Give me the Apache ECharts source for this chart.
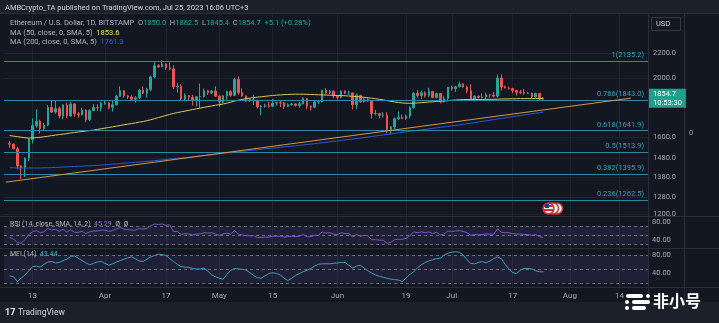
<!DOCTYPE html>
<html><head><meta charset="utf-8">
<script src="https://cdn.jsdelivr.net/npm/echarts@6/dist/echarts.min.js"></script>
<style>html,body{margin:0;padding:0;background:#131722;overflow:hidden}#c{width:719px;height:323px}</style>
</head><body><div id="c"></div>
<script>
// ---------- data ----------
const startDate = [2023, 2, 6];   // first category (Mar 6, 2023)
const dayCount = 169;             // Mar 6 .. Aug 21
const firstCandleOffset = 1;      // candles start Mar 7
// daily [open, high, low, close], Mar 7 .. Jul 25
const ohlc = [
[1565,1580,1540,1561],[1561,1565,1530,1534],[1534,1545,1420,1438],[1438,1442,1368,1429],[1429,1485,1380,1481],
[1481,1595,1465,1589],[1589,1720,1565,1674],[1674,1780,1660,1702],[1702,1712,1625,1655],[1655,1690,1640,1677],
[1677,1810,1670,1792],[1792,1842,1755,1761],[1761,1840,1750,1785],[1785,1800,1720,1736],[1736,1815,1714,1807],
[1807,1825,1720,1736],[1736,1830,1730,1816],[1816,1820,1730,1750],[1750,1760,1725,1743],[1743,1790,1740,1775],
[1775,1780,1695,1711],[1711,1780,1705,1771],[1771,1815,1770,1792],[1792,1815,1770,1790],[1790,1830,1765,1821],
[1821,1840,1810,1823],[1823,1830,1780,1793],[1793,1840,1765,1810],[1810,1880,1805,1870],[1870,1940,1865,1909],
[1909,1915,1860,1872],[1872,1880,1850,1864],[1864,1875,1840,1849],[1849,1870,1825,1859],[1859,1920,1850,1913],
[1913,1940,1885,1892],[1892,1930,1860,1918],[1918,2020,1905,2011],[2011,2125,2000,2097],[2097,2110,2080,2091],
[2091,2140,2085,2111],[2111,2115,2065,2080],[2080,2125,2060,2072],[2072,2100,1920,1937],[1937,1965,1895,1941],
[1941,1955,1840,1850],[1850,1890,1835,1874],[1874,1878,1840,1862],[1862,1880,1805,1842],[1842,1870,1800,1866],
[1866,1960,1790,1868],[1868,1925,1860,1908],[1908,1915,1880,1893],[1893,1915,1885,1906],[1906,1940,1868,1870],
[1870,1880,1800,1830],[1830,1880,1820,1872],[1872,1910,1845,1902],[1902,1912,1865,1876],[1876,2005,1870,1992],
[1992,2015,1880,1895],[1895,1925,1865,1872],[1872,1875,1830,1848],[1848,1855,1830,1845],[1845,1880,1810,1841],
[1841,1845,1785,1797],[1797,1810,1740,1798],[1798,1818,1792,1804],[1804,1830,1790,1800],[1800,1850,1795,1822],
[1822,1830,1805,1824],[1824,1835,1795,1822],[1822,1830,1782,1800],[1800,1820,1795,1811],[1811,1822,1805,1816],
[1816,1820,1798,1806],[1806,1830,1790,1818],[1818,1862,1812,1853],[1853,1855,1780,1801],[1801,1805,1770,1794],
[1794,1835,1788,1829],[1829,1835,1815,1831],[1831,1915,1825,1911],[1911,1928,1885,1892],[1892,1915,1885,1906],
[1906,1908,1855,1872],[1872,1875,1845,1862],[1862,1910,1855,1906],[1906,1910,1885,1892],[1892,1910,1880,1893],
[1893,1895,1780,1810],[1810,1890,1780,1876],[1876,1880,1825,1830],[1830,1860,1825,1848],[1848,1860,1830,1839],
[1839,1840,1720,1752],[1752,1775,1740,1751],[1751,1755,1720,1740],[1740,1760,1725,1740],[1740,1760,1625,1650],
[1650,1670,1620,1666],[1666,1725,1650,1718],[1718,1765,1710,1727],[1727,1745,1715,1720],[1720,1745,1710,1735],
[1735,1800,1720,1790],[1790,1900,1785,1890],[1890,1915,1860,1875],[1875,1910,1850,1894],[1894,1905,1860,1876],
[1876,1930,1865,1904],[1904,1905,1855,1860],[1860,1895,1855,1888],[1888,1890,1820,1832],[1832,1870,1825,1853],
[1853,1935,1835,1934],[1934,1945,1910,1924],[1924,1945,1900,1937],[1937,1975,1935,1955],[1955,1965,1930,1936],
[1936,1945,1890,1909],[1909,1955,1845,1850],[1850,1875,1835,1870],[1870,1873,1855,1862],[1862,1890,1855,1865],
[1865,1895,1850,1880],[1880,1885,1860,1878],[1878,1900,1860,1870],[1870,2030,1860,2003],[2003,2030,1910,1935],
[1935,1945,1925,1928],[1928,1940,1915,1925],[1925,1930,1890,1910],[1910,1915,1875,1898],[1898,1915,1885,1894],
[1894,1920,1880,1890],[1890,1900,1885,1892],[1892,1895,1855,1865],[1865,1895,1860,1890],[1890,1892,1840,1850],
[1850.0,1862.5,1845.4,1854.7]
];
const ma50 = [
1612,1609,1606,1602,1599,1597,1598, 1600,1602,1605,1608,1612,1615,1618, 1621,1624,1628,1631,1634,1637,1640, 1643,1646,1650,1654,
1658,1662,1666,1670,1675,1679,1683, 1687,1691,1696,1700,1705,1711,1718, 1725,1732,1739,1746,1752,1758,1763,
1768,1773,1778,1783,1788,1793,1798, 1802,1807,1811,1816,1822,1828,1836, 1842,1847,1852,1856,1860,1863,1866,
1869,1872,1875,1877,1879,1881,1882, 1883,1884,1884,1884,1883,1882,1881, 1880,1879,1878,1877,1876,1875,1874,
1873,1871,1869,1867,1865,1862,1859, 1856,1852,1848,1844,1839,1834,1830, 1826,1823,1821,1820,1821,1823,1825,
1827,1829,1831,1833,1835,1837,1839, 1841,1843,1845,1846,1847,1847,1847, 1847,1847,1848,1848,1848,1849,1850,
1851,1851,1852,1852,1853,1853,1853, 1853,1853,1853,1853.6
];
const ma200 = [
1428,1428,1427,1427,1427,1427,1427,1427,1427,1428,1428,1429,
1430,1431,1432,1433,1434,1435,1436,1437,1438,1439,1440,1441,1443,
1444,1446,1448,1449,1451,1453,1455,1456,1458,1460,1462,1463,1465,
1467,1469,1471,1473,1476,1478,1480,1482,1484,1486,1488,1491,1493,
1495,1498,1500,1503,1505,1507,1510,1512,1515,1517,1520,1522,1524,1527,
1529,1531,1534,1536,1538,1540,1543,1545,1547,1549,1551,1554,1556,
1559,1561,1564,1567,1570,1572,1575,1578,1580,1583,1586,1589,1591,1594,1597,
1600,1603,1607,1610,1613,1616,1619,1622,1626,1629,1632,1635,
1638,1641,1644,1647,1650,1653,1656,1660,1663,1666,1669,1672,1675,1678,
1682,1686,1689,1693,1697,1701,1704,1708,1712,1716,1720,1723,1727,1731,1735,1739,1742,1746,1750,1754,1757,1761.3
];
const rsi = [
45,42,33,32,40,52,58,61,56,58,66,62,64,59,64,57,63,57,57,59,54,58,60,60,62,
62,59,61,65,68,64,63,62,62,66,64,66,72,76,75,76,73,74,59,59,52,54,53,51,53,53,56,55,56,53,
50,53,55,53,61,53,51,49,49,49,45,45,46,46,48,48,48,46,47,48,47,48,52,47,47,50,50,58,55,56,53,
52,56,54,54,46,52,48,50,49,40,40,39,39,32,34,40,41,41,43,49,58,56,58,56,58,54,57,51,53,60,
59,60,61,59,56,50,52,51,52,53,53,52,65,57,56,56,54,53,53,52,52,50,52,47,45.29
];
const mfi = [
35,33,23,30,37,46,55,56,54,60,65,66,63,64,68,71,77,78,73,68,63,59,62,65,66,
62,58,61,65,68,71,74,76,72,67,66,71,76,79,82,81,79,72,66,60,55,54,53,51,50,50,52,45,37,33,
30,28,38,47,51,50,49,48,42,36,31,30,35,40,42,40,37,30,25,30,36,40,44,47,51,56,60,61,61,61,62,
63,64,64,58,52,56,58,52,46,41,37,34,32,30,28,27,26,23,30,38,44,52,59,64,67,70,72,73,80,84,
86,87,86,80,70,62,61,64,66,63,67,72,76,72,60,50,42,40,47,51,51,50,46,44,43.44
];
const fibLevels = [2135.2, 1843.0, 1641.9, 1513.9, 1395.9, 1262.5];
const fibRatios = ['1', '0.786', '0.618', '0.5', '0.382', '0.236'];
const trendStart = ['2023-03-06', 1353];
const trendEnd = ['2023-08-17', 1856];
const priceTicks = [2200, 2000, 1600, 1480, 1380, 1280, 1200];
const rsiTicks = [80, 40];
const mfiTicks = [80, 40];
const rsiLevels = [70, 50, 30];
const mfiLevels = [80, 50, 20];
const tickDates = ['2023-03-13','2023-04-01','2023-04-17','2023-05-01','2023-05-15','2023-06-01','2023-06-19','2023-07-01','2023-07-17','2023-08-01','2023-08-14'];
const tickTexts = ['13','Apr','17','May','15','Jun','19','Jul','17','Aug','14'];
const lastClose = 1854.7;
const countdown = '10:53:30';

// ---------- build ----------
const dates = [];
const t0 = Date.UTC(startDate[0], startDate[1], startDate[2]);
for (let k = 0; k < dayCount; k++) dates.push(new Date(t0 + k * 86400000).toISOString().slice(0, 10));
const pad = n => Array(n).fill('-');
const candleData = pad(firstCandleOffset).map(() => ['-','-','-','-']).concat(ohlc.map(r => [r[0], r[3], r[2], r[1]]));
const lineData = arr => pad(firstCandleOffset).concat(arr);

const FONT = 'Roboto, "Liberation Sans", sans-serif';
const lbl = '#a3a6af';
const gridColor = 'rgba(42,46,57,0.55)';
const fibColor = '#2a8aa3';
const isTick = (i, v) => tickDates.indexOf(v) >= 0;

function xAxis(g, showLabel) {
  return {
    type: 'category', gridIndex: g, data: dates, boundaryGap: true,
    axisLine: { show: false }, axisTick: { show: false },
    axisLabel: { show: showLabel, interval: isTick, formatter: v => tickTexts[tickDates.indexOf(v)],
      color: lbl, fontSize: 8, fontFamily: FONT, margin: 5 },
    splitLine: { show: true, interval: isTick, alignWithLabel: true, lineStyle: { color: gridColor, width: 1 } }
  };
}
function subY(g, min, max, ticks) {
  return {
    type: 'value', gridIndex: g, position: 'right', min: min, max: max,
    axisLine: { show: false }, axisTick: { show: false, customValues: ticks },
    axisLabel: { customValues: ticks, formatter: v => Number(v).toFixed(2), color: lbl, fontSize: 7.5, fontFamily: FONT, margin: 4 },
    splitLine: { show: false }
  };
}

const option = {
  animation: false,
  backgroundColor: '#131722',
  grid: [
    { left: 4, right: 71, top: 14, height: 202 },
    { left: 4, right: 71, top: 217, height: 31 },
    { left: 4, right: 71, top: 249, height: 38 }
  ],
  xAxis: [xAxis(0, false), xAxis(1, false), xAxis(2, true)],
  yAxis: [
    { type: 'log', logBase: 10, gridIndex: 0, position: 'right', min: 1191, max: 2548,
      axisLine: { show: false }, axisTick: { show: false, customValues: priceTicks },
      axisLabel: { customValues: priceTicks, formatter: v => Number(v).toFixed(1), color: lbl, fontSize: 7.5, fontFamily: FONT, margin: 5 },
      splitLine: { show: true, lineStyle: { color: gridColor } } },
    subY(1, 21, 92, rsiTicks),
    subY(2, 11, 93, mfiTicks)
  ],
  series: [
    { type: 'candlestick', xAxisIndex: 0, yAxisIndex: 0, data: candleData, barWidth: 2,
      itemStyle: { color: '#26a69a', color0: '#ef5350', borderColor: '#26a69a', borderColor0: '#ef5350', borderWidth: 1 },
      markLine: { silent: true, symbol: 'none', animation: false,
        lineStyle: { color: 'rgba(0,0,0,0)', width: 1 },
        data: [{ yAxis: lastClose,
          label: { show: true, position: 'end', distance: 1, formatter: lastClose.toFixed(1) + '\n' + countdown,
            backgroundColor: '#1f9f8c', color: '#ffffff', fontSize: 7.5, lineHeight: 9, padding: [1, 4, 0, 4], fontFamily: FONT } }] } },
    { type: 'line', name: 'MA50', xAxisIndex: 0, yAxisIndex: 0, data: lineData(ma50), symbol: 'none',
      lineStyle: { color: '#d9c75a', width: 1 }, z: 3 },
    { type: 'line', name: 'MA200', xAxisIndex: 0, yAxisIndex: 0, data: lineData(ma200), symbol: 'none',
      lineStyle: { color: '#2f56e0', width: 1 }, z: 3 },
    { type: 'line', name: 'Fib', xAxisIndex: 0, yAxisIndex: 0, data: [], symbol: 'none', z: 2,
      lineStyle: { color: fibColor },
      markLine: { silent: true, symbol: 'none', animation: false,
        lineStyle: { color: fibColor, width: 1, type: 'solid' },
        data: fibLevels.map((v, k) => ({ yAxis: v,
          label: { show: true, position: 'insideEndTop', distance: [4, 2], formatter: fibRatios[k] + '(' + v.toFixed(1) + ')',
            color: '#3aa0b4', fontSize: 7.5, fontFamily: FONT } })) } },
    { type: 'line', name: 'Trend', xAxisIndex: 0, yAxisIndex: 0, data: [], symbol: 'none', z: 2,
      lineStyle: { color: '#d4963f' },
      markLine: { silent: true, symbol: 'none', animation: false, label: { show: false },
        lineStyle: { color: '#d4963f', width: 1, type: 'solid' },
        data: [[ { coord: trendStart }, { coord: trendEnd } ]] } },
    { type: 'line', name: 'RSI', xAxisIndex: 1, yAxisIndex: 1, data: lineData(rsi), symbol: 'none',
      lineStyle: { color: '#7e57c2', width: 1 },
      markArea: { silent: true, itemStyle: { color: 'rgba(126,87,194,0.12)' }, data: [[{ yAxis: rsiLevels[0] }, { yAxis: rsiLevels[2] }]] },
      markLine: { silent: true, symbol: 'none', label: { show: false },
        lineStyle: { color: '#6b6e78', type: [3, 3], width: 1 }, data: rsiLevels.map(v => ({ yAxis: v })) } },
    { type: 'line', name: 'MFI', xAxisIndex: 2, yAxisIndex: 2, data: lineData(mfi), symbol: 'none',
      lineStyle: { color: '#3f9fb8', width: 1 },
      markArea: { silent: true, itemStyle: { color: 'rgba(126,87,194,0.12)' }, data: [[{ yAxis: mfiLevels[0] }, { yAxis: mfiLevels[2] }]] },
      markLine: { silent: true, symbol: 'none', label: { show: false },
        lineStyle: { color: '#6b6e78', type: [3, 3], width: 1 }, data: mfiLevels.map(v => ({ yAxis: v })) } }
  ],
  graphic: [
    { type: 'rect', shape: { x: 0, y: 0, width: 719, height: 13 }, style: { fill: '#1c202b' }, z: -1, silent: true },
    { type: 'rect', shape: { x: 0, y: 302, width: 719, height: 21 }, style: { fill: '#1c202b' }, z: -1, silent: true },
    { type: 'line', shape: { x1: 0, y1: 216.5, x2: 719, y2: 216.5 }, style: { stroke: '#2a2e39', lineWidth: 1 }, z: 5 },
    { type: 'line', shape: { x1: 0, y1: 248.5, x2: 719, y2: 248.5 }, style: { stroke: '#2a2e39', lineWidth: 1 }, z: 5 },
    { type: 'line', shape: { x1: 0, y1: 287.5, x2: 719, y2: 287.5 }, style: { stroke: '#2a2e39', lineWidth: 1 }, z: 5 },
    { type: 'line', shape: { x1: 0, y1: 13.5, x2: 719, y2: 13.5 }, style: { stroke: '#2a2e39', lineWidth: 1 }, z: 5 },
    { type: 'line', shape: { x1: 648.5, y1: 14, x2: 648.5, y2: 302 }, style: { stroke: '#2a2e39', lineWidth: 1 }, z: 5 },
    { type: 'line', shape: { x1: 684.5, y1: 14, x2: 684.5, y2: 302 }, style: { stroke: '#2a2e39', lineWidth: 1 }, z: 5 },
    { type: 'text', x: 5, y: 4, z: 10, style: { text: 'AMBCrypto_TA published on TradingView.com, Jul 25, 2023 16:06 UTC+3', fill: '#d1d4dc', font: '7.5px ' + FONT } },
    { type: 'text', x: 10, y: 19.5, z: 10, style: {
      text: '{a|Ethereum / U.S. Dollar, 1D, BITSTAMP}  {a|O}{v|1850.0}  {a|H}{v|1862.5}  {a|L}{v|1845.4}  {a|C}{v|1854.7}  {v|+5.1 (+0.28%)}',
      font: '7.5px ' + FONT, rich: { a: { fill: '#b2b5be', font: '7.5px ' + FONT }, v: { fill: '#26a69a', font: '7.5px ' + FONT } } } },
    { type: 'text', x: 10, y: 29, z: 10, style: {
      text: '{a|MA (50, close, 0, SMA, 5)}  {y|1853.6}',
      font: '7.5px ' + FONT, rich: { a: { fill: '#b2b5be', font: '7.5px ' + FONT }, y: { fill: '#f5e44a', font: '7.5px ' + FONT } } } },
    { type: 'text', x: 10, y: 38.5, z: 10, style: {
      text: '{a|MA (200, close, 0, SMA, 5)}  {b|1761.3}',
      font: '7.5px ' + FONT, rich: { a: { fill: '#b2b5be', font: '7.5px ' + FONT }, b: { fill: '#2962ff', font: '7.5px ' + FONT } } } },
    { type: 'text', x: 10, y: 221, z: 10, style: {
      text: '{a|RSI (14, close, SMA, 14, 2)}  {p|45.29}  {a|Ø  Ø}',
      font: '7px ' + FONT, rich: { a: { fill: '#b2b5be', font: '7px ' + FONT }, p: { fill: '#8e6fd0', font: '7px ' + FONT } } } },
    { type: 'text', x: 10, y: 251, z: 10, style: {
      text: '{a|MFI (14)}  {m|43.44}',
      font: '7px ' + FONT, rich: { a: { fill: '#b2b5be', font: '7px ' + FONT }, m: { fill: '#4fb3c8', font: '7px ' + FONT } } } },
    { type: 'rect', shape: { x: 651.5, y: 17.5, width: 29, height: 13 }, style: { fill: '#131722', stroke: '#363a45', lineWidth: 1 }, z: 10 },
    { type: 'text', x: 656, y: 20, z: 11, style: { text: 'USD', fill: '#d1d4dc', font: '7.5px ' + FONT } },
    { type: 'text', x: 689, y: 129, z: 10, style: { text: '0', fill: lbl, font: '7.5px ' + FONT } },
    // event markers
    { type: 'circle', shape: { cx: 557, cy: 208.5, r: 5.5 }, style: { fill: '#fff', stroke: '#d32f2f', lineWidth: 1.5 }, z: 10 },
    { type: 'circle', shape: { cx: 553, cy: 208.5, r: 5.5 }, style: { fill: '#fff', stroke: '#d32f2f', lineWidth: 1.5 }, z: 10 },
    { type: 'circle', shape: { cx: 548.5, cy: 208.5, r: 5.5 }, style: { fill: '#e8eaf0', stroke: '#d32f2f', lineWidth: 1.5 }, z: 10 },
    { type: 'rect', shape: { x: 544, y: 205, width: 9, height: 2 }, style: { fill: '#d32f2f' }, z: 11 },
    { type: 'rect', shape: { x: 544, y: 209, width: 9, height: 2 }, style: { fill: '#d32f2f' }, z: 11 },
    { type: 'rect', shape: { x: 545, y: 204, width: 4, height: 4 }, style: { fill: '#1e3a8a' }, z: 12 },
    // footer
    { type: 'text', x: 5, y: 308, z: 10, style: { text: '17', fill: '#e0e3eb', font: 'bold 9px ' + FONT } },
    { type: 'text', x: 18, y: 308, z: 10, style: { text: 'TradingView', fill: '#d1d4dc', font: '8.5px ' + FONT } },
    // watermark
    { type: 'rect', shape: { x: 626, y: 294, width: 17, height: 4, r: 2 }, style: { fill: '#ffffff' }, z: 20 },
    { type: 'circle', shape: { cx: 648, cy: 296, r: 2 }, style: { fill: '#ffffff' }, z: 20 },
    { type: 'circle', shape: { cx: 627, cy: 302, r: 2 }, style: { fill: '#ffffff' }, z: 20 },
    { type: 'rect', shape: { x: 632, y: 300, width: 18, height: 4, r: 2 }, style: { fill: '#ffffff' }, z: 20 },
    { type: 'circle', shape: { cx: 627, cy: 308, r: 2 }, style: { fill: '#ffffff' }, z: 20 },
    { type: 'rect', shape: { x: 632, y: 306, width: 14, height: 4, r: 2 }, style: { fill: '#ffffff' }, z: 20 },
    { type: 'text', x: 653, y: 293, z: 20, style: { text: '非小号', fill: '#ffffff', font: 'bold 16px "Noto Sans CJK SC"' } }
  ]
};
const chart = echarts.init(document.getElementById('c'), null, { renderer: 'canvas' });
chart.setOption(option);
</script>
</body></html>
